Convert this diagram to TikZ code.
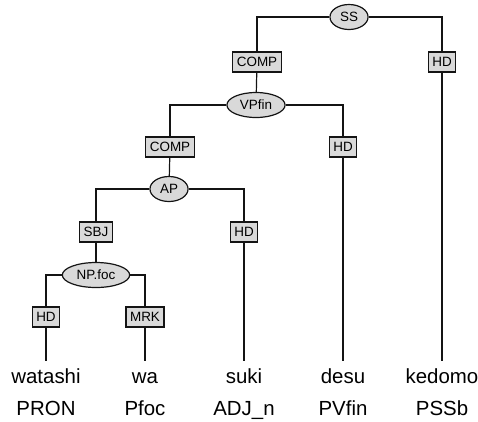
\documentclass[tikz,border=0pt]{standalone}
\usepackage{fontspec}
\setmainfont{Liberation Sans}
\usepackage{tikz}
\usetikzlibrary{shapes.geometric, positioning}
\definecolor{catgray}{RGB}{217,217,217}
\definecolor{lndark}{RGB}{20,20,20}

\begin{document}
\begin{tikzpicture}[x=1bp, y=-1bp,
  catnode/.style={ellipse, draw=lndark, fill=catgray, inner xsep=4.5bp, inner ysep=0pt, minimum height=25bp, font=\fontsize{13.5}{15}\selectfont, line width=1.2bp},
  fnnode/.style={rectangle, draw=lndark, fill=catgray, inner xsep=4bp, inner ysep=0pt, minimum height=20bp, font=\fontsize{13.5}{15}\selectfont, line width=1.3bp},
  wordnode/.style={anchor=base, inner xsep=0pt, inner ysep=7bp, text height=15bp, text depth=4bp, font=\fontsize{20.5}{24}\selectfont},
  posnode/.style={anchor=base, inner sep=0pt, font=\fontsize{20.5}{24}\selectfont},
  treeline/.style={line width=1.2bp, color=lndark}]

  \useasboundingbox (0,0) rectangle (478,421);

  % Nodes
  \node[catnode] (ss) at (349,17) {SS};
  \node[fnnode] (compa) at (257,62) {COMP};
  \node[fnnode] (hda) at (442,62) {HD};

  \node[catnode] (vpfin) at (256,105) {VPfin};
  \node[fnnode] (compb) at (170,147) {COMP};
  \node[fnnode] (hdb) at (343,147) {HD};

  \node[catnode] (ap) at (169,189) {AP};
  \node[fnnode] (sbj) at (96,232) {SBJ};
  \node[fnnode] (hdc) at (244,232) {HD};

  \node[catnode] (npfoc) at (96,275) {NP.foc};
  \node[fnnode] (hdd) at (46,317) {HD};
  \node[fnnode] (mrk) at (145,317) {MRK};

  % Words
  \node[wordnode] (watashi) at (46,383) {watashi};
  \node[wordnode] (wa) at (145,383) {wa};
  \node[wordnode] (suki) at (244,383) {suki};
  \node[wordnode] (desu) at (343,383) {desu};
  \node[wordnode] (kedomo) at (442,383) {kedomo};

  \node[posnode] (pron) at (46,415) {PRON};
  \node[posnode] (pfoc) at (145,415) {Pfoc};
  \node[posnode] (adjn) at (244,415) {ADJ\_n};
  \node[posnode] (pvfin) at (343,415) {PVfin};
  \node[posnode] (pssb) at (442,415) {PSSb};

  % Connections
  \draw[treeline] (ss.west) -| (compa.north);
  \draw[treeline] (ss.east) -| (hda.north);
  \draw[treeline] (compa) -- (vpfin);
  \draw[treeline] (hda) -- (kedomo);

  \draw[treeline] (vpfin.west) -| (compb.north);
  \draw[treeline] (vpfin.east) -| (hdb.north);
  \draw[treeline] (compb) -- (ap);
  \draw[treeline] (hdb) -- (desu);

  \draw[treeline] (ap.west) -| (sbj.north);
  \draw[treeline] (ap.east) -| (hdc.north);
  \draw[treeline] (sbj) -- (npfoc);
  \draw[treeline] (hdc) -- (suki);

  \draw[treeline] (npfoc.west) -| (hdd.north);
  \draw[treeline] (npfoc.east) -| (mrk.north);
  \draw[treeline] (hdd) -- (watashi);
  \draw[treeline] (mrk) -- (wa);

\end{tikzpicture}
\end{document}
